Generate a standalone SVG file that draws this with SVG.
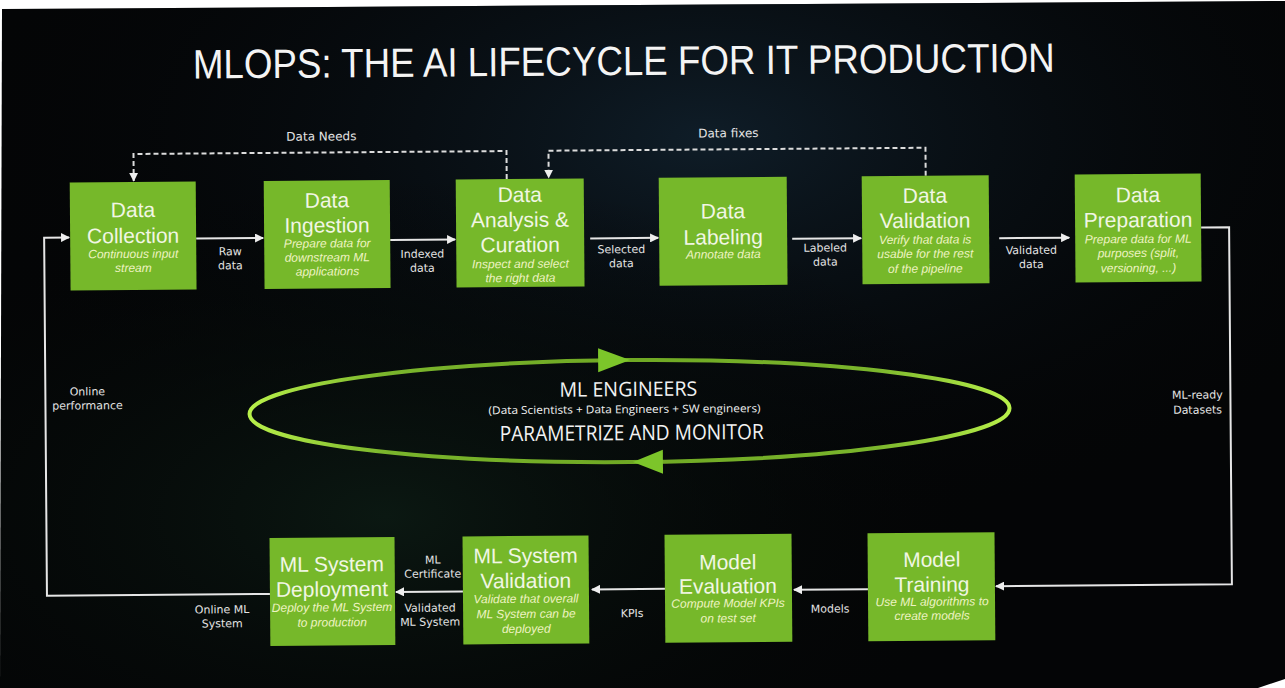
<svg xmlns="http://www.w3.org/2000/svg" width="1285" height="688" viewBox="0 0 1285 688">
  <defs>
    <radialGradient id="glow1" cx="0.55" cy="0.2" r="0.6">
      <stop offset="0" stop-color="#0f1d28"/>
      <stop offset="1" stop-color="#030405" stop-opacity="0"/>
    </radialGradient>
    <radialGradient id="glow2" cx="0.3" cy="0.75" r="0.5">
      <stop offset="0" stop-color="#0b1812"/>
      <stop offset="1" stop-color="#030405" stop-opacity="0"/>
    </radialGradient>
    <linearGradient id="ring" x1="0" y1="0" x2="1" y2="0">
      <stop offset="0" stop-color="#b8f04a"/>
      <stop offset="0.18" stop-color="#7ab52c"/>
      <stop offset="0.5" stop-color="#6fa824"/>
      <stop offset="0.82" stop-color="#7ab52c"/>
      <stop offset="1" stop-color="#b8f04a"/>
    </linearGradient>
    <marker id="arr" viewBox="0 0 10 10" refX="9" refY="5" markerWidth="9" markerHeight="9" markerUnits="userSpaceOnUse" orient="auto">
      <path d="M0,0 L10,5 L0,10 z" fill="#eeeeee"/>
    </marker>
    <style>
      .node rect { fill: #76b82a; }
      .nt { font-family: "Liberation Sans", Arial, sans-serif; font-size: 21px; fill: #f1f6e4; text-anchor: middle; }
      .ns { font-family: "Liberation Sans", Arial, sans-serif; font-size: 12px; font-style: italic; fill: #eef3c2; text-anchor: middle; }
      .lbl { font-family: "DejaVu Sans", Verdana, sans-serif; font-size: 11px; fill: #e4e4e4; text-anchor: middle; }
      .lbl12 { font-family: "DejaVu Sans", Verdana, sans-serif; font-size: 12px; fill: #e4e4e4; text-anchor: middle; }
      .conn { fill: none; stroke: #e6e6e6; stroke-width: 2; }
      .dash { fill: none; stroke: #dcdcdc; stroke-width: 2; stroke-dasharray: 5 3; }
      .ring { font-family: "Open Sans", "DejaVu Sans", sans-serif; fill: #f2f2f2; text-anchor: middle; }
    </style>
  </defs>

  <rect x="0" y="0" width="1285" height="688" fill="#ffffff"/>
  <polygon points="2,9 1285,1 1285,679 1258,688 0,688" fill="#040506"/>
  <polygon points="2,9 1285,1 1285,679 1258,688 0,688" fill="url(#glow1)"/>
  <polygon points="2,9 1285,1 1285,679 1258,688 0,688" fill="url(#glow2)"/>

  <g transform="rotate(-0.45 640 344)">
    <text id="title" x="626" y="75" font-family="'Liberation Sans', Arial, sans-serif" font-size="41" fill="#f4f4f4" text-anchor="middle" textLength="862" lengthAdjust="spacingAndGlyphs">MLOPS: THE AI LIFECYCLE FOR IT PRODUCTION</text>

    <g id="connectors">
      <path class="conn" d="M197,235 H264" marker-end="url(#arr)"/>
      <path class="conn" d="M391,238 H456" marker-end="url(#arr)"/>
      <path class="conn" d="M591,238 H659" marker-end="url(#arr)"/>
      <path class="conn" d="M793,240 H862" marker-end="url(#arr)"/>
      <path class="conn" d="M1000,241 H1070" marker-end="url(#arr)"/>
      <path class="conn" d="M1202,232 H1230 V589 H994" marker-end="url(#arr)"/>
      <path class="conn" d="M866,591 H792" marker-end="url(#arr)"/>
      <path class="conn" d="M663,589 H590" marker-end="url(#arr)"/>
      <path class="conn" d="M461,590 H394" marker-end="url(#arr)"/>
      <path class="conn" d="M268,591 H45 V233 H70" marker-end="url(#arr)"/>
      <path class="dash" d="M508,178 V150 H135 V177" marker-end="url(#arr)"/>
      <path class="dash" d="M927,178 V150 H550 V177" marker-end="url(#arr)"/>

      <text class="lbl12" x="323" y="138">Data Needs</text>
      <text class="lbl12" x="730" y="138">Data fixes</text>
      <text class="lbl" x="231" y="252">Raw</text>
      <text class="lbl" x="231" y="266">data</text>
      <text class="lbl" x="423" y="256">Indexed</text>
      <text class="lbl" x="423" y="270">data</text>
      <text class="lbl" x="622" y="253">Selected</text>
      <text class="lbl" x="622" y="267">data</text>
      <text class="lbl" x="826" y="253">Labeled</text>
      <text class="lbl" x="826" y="267">data</text>
      <text class="lbl" x="1032" y="257">Validated</text>
      <text class="lbl" x="1032" y="271">data</text>
      <text class="lbl" x="1197" y="403">ML-ready</text>
      <text class="lbl" x="1197" y="418">Datasets</text>
      <text class="lbl" x="828" y="614">Models</text>
      <text class="lbl" x="630" y="617">KPIs</text>
      <text class="lbl" x="431" y="562">ML</text>
      <text class="lbl" x="431" y="576">Certificate</text>
      <text class="lbl" x="428" y="610">Validated</text>
      <text class="lbl" x="428" y="624">ML System</text>
      <text class="lbl" x="220" y="610">Online ML</text>
      <text class="lbl" x="220" y="624">System</text>
      <text class="lbl" x="87" y="391">Online</text>
      <text class="lbl" x="87" y="405">performance</text>
    </g>

    <g id="ml-engineers">
      <ellipse cx="629" cy="411" rx="380" ry="51" fill="none" stroke="url(#ring)" stroke-width="4"/>
      <polygon points="630,360 598,348 598,372" fill="#7cc52a"/>
      <polygon points="632,462 662,450 662,474" fill="#7cc52a"/>
      <text class="ring" x="628" y="396" font-size="20" textLength="138" lengthAdjust="spacingAndGlyphs">ML ENGINEERS</text>
      <text class="ring" x="624" y="413" font-size="11" textLength="272" lengthAdjust="spacingAndGlyphs">(Data Scientists + Data Engineers + SW engineers)</text>
      <text class="ring" x="631" y="440" font-size="21" textLength="264" lengthAdjust="spacingAndGlyphs">PARAMETRIZE AND MONITOR</text>
    </g>

    <g id="data-collection" class="node">
      <rect x="71" y="178" width="126" height="108"/>
      <text class="nt" x="134" y="213">Data</text>
      <text class="nt" x="134" y="239">Collection</text>
      <text class="ns" x="134" y="254">Continuous input</text>
      <text class="ns" x="134" y="268">stream</text>
    </g>
    <g id="data-ingestion" class="node">
      <rect x="265" y="178" width="126" height="108"/>
      <text class="nt" x="328" y="205">Data</text>
      <text class="nt" x="328" y="230">Ingestion</text>
      <text class="ns" x="328" y="245">Prepare data for</text>
      <text class="ns" x="328" y="259">downstream ML</text>
      <text class="ns" x="328" y="273">applications</text>
    </g>
    <g id="data-analysis" class="node">
      <rect x="457" y="178" width="128" height="108"/>
      <text class="nt" x="521" y="201">Data</text>
      <text class="nt" x="521" y="226">Analysis &amp;</text>
      <text class="nt" x="521" y="251">Curation</text>
      <text class="ns" x="521" y="267">Inspect and select</text>
      <text class="ns" x="521" y="281">the right data</text>
    </g>
    <g id="data-labeling" class="node">
      <rect x="660" y="178" width="128" height="108"/>
      <text class="nt" x="724" y="219">Data</text>
      <text class="nt" x="724" y="245">Labeling</text>
      <text class="ns" x="724" y="259">Annotate data</text>
    </g>
    <g id="data-validation" class="node">
      <rect x="863" y="178" width="127" height="108"/>
      <text class="nt" x="926" y="205">Data</text>
      <text class="nt" x="926" y="230">Validation</text>
      <text class="ns" x="926" y="246">Verify that data is</text>
      <text class="ns" x="926" y="260">usable for the rest</text>
      <text class="ns" x="926" y="275">of the pipeline</text>
    </g>
    <g id="data-preparation" class="node">
      <rect x="1076" y="178" width="126" height="108"/>
      <text class="nt" x="1139" y="206">Data</text>
      <text class="nt" x="1139" y="231">Preparation</text>
      <text class="ns" x="1139" y="247">Prepare data for ML</text>
      <text class="ns" x="1139" y="261">purposes (split,</text>
      <text class="ns" x="1139" y="276">versioning, ...)</text>
    </g>

    <g id="ml-system-deployment" class="node">
      <rect x="268" y="535" width="125" height="108"/>
      <text class="nt" x="330" y="569">ML System</text>
      <text class="nt" x="330" y="594">Deployment</text>
      <text class="ns" x="330" y="609">Deploy the ML System</text>
      <text class="ns" x="330" y="624">to production</text>
    </g>
    <g id="ml-system-validation" class="node">
      <rect x="461" y="535" width="126" height="108"/>
      <text class="nt" x="524" y="562">ML System</text>
      <text class="nt" x="524" y="587">Validation</text>
      <text class="ns" x="524" y="602">Validate that overall</text>
      <text class="ns" x="524" y="617">ML System can be</text>
      <text class="ns" x="524" y="632">deployed</text>
    </g>
    <g id="model-evaluation" class="node">
      <rect x="663" y="535" width="127" height="108"/>
      <text class="nt" x="726" y="570">Model</text>
      <text class="nt" x="726" y="594">Evaluation</text>
      <text class="ns" x="726" y="608">Compute Model KPIs</text>
      <text class="ns" x="726" y="623">on test set</text>
    </g>
    <g id="model-training" class="node">
      <rect x="866" y="535" width="127" height="108"/>
      <text class="nt" x="930" y="569">Model</text>
      <text class="nt" x="930" y="594">Training</text>
      <text class="ns" x="930" y="608">Use ML algorithms to</text>
      <text class="ns" x="930" y="622">create models</text>
    </g>
  </g>
</svg>
